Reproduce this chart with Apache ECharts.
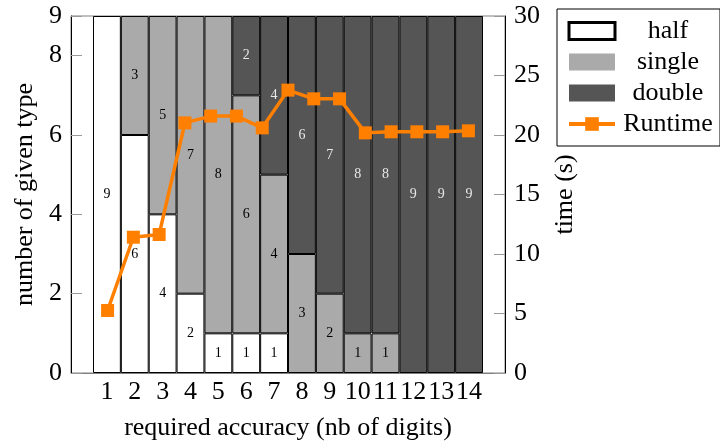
<!DOCTYPE html>
<html>
<head>
<meta charset="utf-8">
<script src="https://cdn.jsdelivr.net/npm/echarts@6/dist/echarts.min.js"></script>
<style>html,body{margin:0;padding:0;background:#fff;}#c{width:720px;height:441px;}</style>
</head>
<body>
<div id="c"></div>
<script>
const categories = ['1','2','3','4','5','6','7','8','9','10','11','12','13','14'];
const halfVals   = [9,6,4,2,1,1,1,0,0,0,0,0,0,0];
const singleVals = [0,3,5,7,8,6,4,3,2,1,1,0,0,0];
const doubleVals = [0,0,0,0,0,2,4,6,7,8,8,9,9,9];
const runtimeX   = [1,2,3,4,5,6,7,8,9,10,11,12,13,14,15];
const runtimeVals = [5.25,11.41,11.64,21.02,21.59,21.59,20.60,23.77,23.04,23.04,20.18,20.27,20.27,20.27,20.35];
const leftTicks  = [0,2,4,6,8,9];
const rightTicks = [0,5,10,15,20,25,30];

const FONT = 'Liberation Serif';
function clean(vals){ return vals.map(v => v === 0 ? null : v); }

const chart = echarts.init(document.getElementById('c'));
const barBase = {
  type:'bar', stack:'prec', xAxisIndex:1, yAxisIndex:2, barWidth:'100%',
  label:{show:true, position:'inside', fontSize:14, fontFamily:FONT, color:'#000'}
};
chart.setOption({
  animation:false,
  textStyle:{fontFamily:FONT},
  grid:[
    {left:71, right:215, top:16, bottom:68, show:true, borderColor:'#808080', borderWidth:1,
     outerBoundsMode:'none', containLabel:false},
    {left:93, right:237, top:16, bottom:68, outerBoundsMode:'none', containLabel:false}
  ],
  legend:{
    orient:'vertical', left:557, top:9, padding:[9,4,9,10],
    borderColor:'#000', borderWidth:1, itemWidth:46, itemHeight:17, itemGap:5,
    data:[
      {name:'half', icon:'rect', itemStyle:{color:'#fff', borderColor:'#000', borderWidth:3}},
      {name:'single', icon:'rect', itemStyle:{borderWidth:0}},
      {name:'double', icon:'rect', itemStyle:{borderWidth:0}},
      {name:'Runtime', lineStyle:{width:4}}
    ],
    formatter: n => '{a|' + n + '}',
    textStyle:{rich:{a:{width:96, align:'center', fontSize:26, lineHeight:20, fontFamily:FONT, color:'#000'}}}
  },
  xAxis:[
    {gridIndex:0, type:'value', min:0, max:1,
     axisLine:{show:true, onZero:false, lineStyle:{color:'#808080'}}, axisTick:{show:false},
     splitLine:{show:false}, axisLabel:{show:false},
     name:'required accuracy (nb of digits)', nameLocation:'middle', nameGap:42,
     nameTextStyle:{fontSize:26, color:'#000', fontFamily:FONT}},
    {gridIndex:1, type:'category', data:categories,
     axisLine:{show:false}, axisTick:{show:false}, splitLine:{show:false},
     axisLabel:{fontSize:26, color:'#000', margin:6, fontFamily:FONT, interval:0}},
    {gridIndex:0, type:'value', min:-0.42, max:16.42, show:false}
  ],
  yAxis:[
    {gridIndex:0, type:'value', min:0, max:9, interval:1, position:'left',
     axisLine:{show:true, onZero:false, lineStyle:{color:'#000'}},
     axisTick:{show:true, inside:true, length:11, lineStyle:{color:'#999'}, customValues:leftTicks},
     axisLabel:{customValues:leftTicks, fontSize:26, color:'#000', margin:9, fontFamily:FONT},
     splitLine:{show:false},
     name:'number of given type', nameLocation:'middle', nameGap:32, nameRotate:90,
     nameTextStyle:{fontSize:26, color:'#000', fontFamily:FONT}},
    {gridIndex:0, type:'value', min:0, max:30, interval:5, position:'right',
     axisLine:{show:true, onZero:false, lineStyle:{color:'#000'}},
     axisTick:{show:true, inside:true, length:11, lineStyle:{color:'#999'}, customValues:rightTicks},
     axisLabel:{customValues:rightTicks, fontSize:26, color:'#000', margin:9, fontFamily:FONT},
     splitLine:{show:false},
     name:'time (s)', nameLocation:'middle', nameGap:47, nameRotate:90,
     nameTextStyle:{fontSize:26, color:'#000', fontFamily:FONT}},
    {gridIndex:1, type:'value', min:0, max:9, show:false}
  ],
  series:[
    Object.assign({}, barBase, {name:'half', data:clean(halfVals),
      itemStyle:{color:'#ffffff', borderColor:'#000', borderWidth:1}}),
    Object.assign({}, barBase, {name:'single', data:clean(singleVals),
      itemStyle:{color:'#aaaaaa', borderColor:'#000', borderWidth:1}}),
    Object.assign({}, barBase, {name:'double', data:clean(doubleVals),
      itemStyle:{color:'#555555', borderColor:'#000', borderWidth:1},
      label:Object.assign({}, barBase.label, {color:'#e8e8e8'})}),
    {name:'Runtime', type:'line', xAxisIndex:2, yAxisIndex:1, z:5,
     data:runtimeX.map((x,i)=>[x, runtimeVals[i]]),
     symbol:'rect', symbolSize:13, showSymbol:true,
     lineStyle:{color:'#ff7f00', width:3.5}, itemStyle:{color:'#ff7f00'}}
  ]
});
</script>
</body>
</html>
